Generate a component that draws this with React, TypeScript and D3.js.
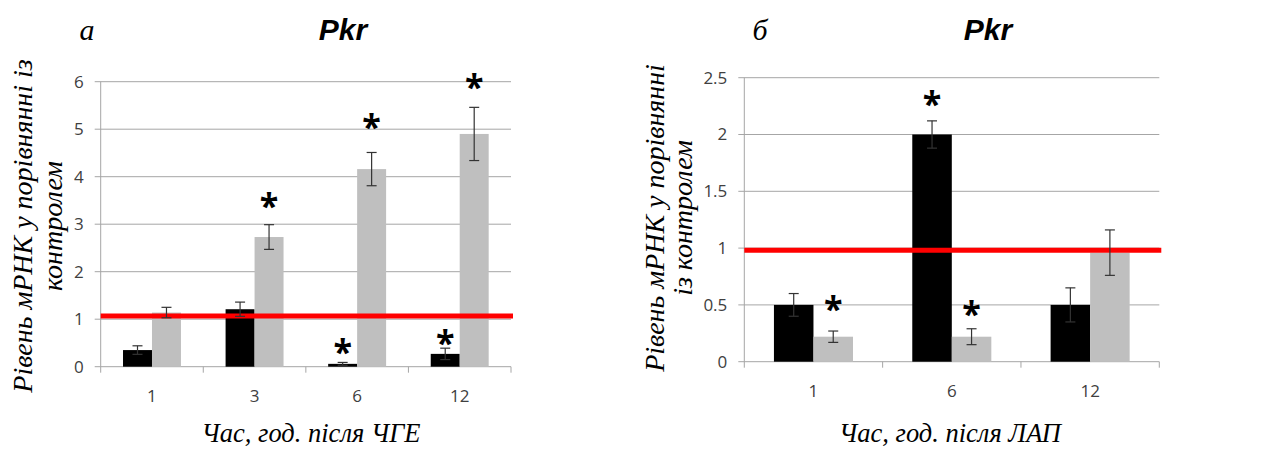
import React from "react";
import * as d3 from "d3";

// ---------- data: panel а (ЧГЕ) ----------
const catsA = ["1", "3", "6", "12"];
const blackA = [0.35, 1.21, 0.06, 0.27];
const blackErrA = [0.09, 0.15, 0.03, 0.12];
const grayA = [1.14, 2.73, 4.16, 4.9];
const grayErrA = [0.11, 0.26, 0.35, 0.56];
const starBlackA: (number | null)[] = [null, null, 0.39, 0.6];
const starGrayA: (number | null)[] = [null, 3.47, 5.14, 5.97];
const ticksA = [0, 1, 2, 3, 4, 5, 6];
const refA = 1.07;

// ---------- data: panel б (ЛАП) ----------
const catsB = ["1", "6", "12"];
const blackB = [0.5, 2.0, 0.5];
const blackErrB = [0.1, 0.12, 0.15];
const grayB = [0.22, 0.22, 0.96];
const grayErrB = [0.05, 0.07, 0.2];
const starBlackB: (number | null)[] = [null, 2.31, null];
const starGrayB: (number | null)[] = [0.5, 0.455, null];
const ticksB = [0, 0.5, 1, 1.5, 2, 2.5];
const refB = 0.98;

const SERIF = "'Liberation Serif', 'Times New Roman', serif";
const SANS = "'Open Sans', 'Liberation Sans', sans-serif";

type PanelProps = {
  cats: string[];
  black: number[];
  blackErr: number[];
  gray: number[];
  grayErr: number[];
  starBlack: (number | null)[];
  starGray: (number | null)[];
  ticks: number[];
  ref1: number;
  x0: number;
  x1: number;
  yTop: number;
  yBottom: number;
  innerPad: number;
  letter: string;
  letterX: number;
  titleX: number;
  xTitle: string;
  xTitleX: number;
  yLines: string[];
  yLineX: number[];
  yTitleY: number;
};

function Panel(p: PanelProps) {
  const y = d3.scaleLinear().domain([0, p.ticks[p.ticks.length - 1]]).range([p.yBottom, p.yTop]);
  const x = d3.scaleBand<string>().domain(p.cats).range([p.x0, p.x1]).padding(0);
  const sub = d3
    .scaleBand<string>()
    .domain(["black", "gray"])
    .range([0, x.bandwidth()])
    .paddingInner(0)
    .paddingOuter(p.innerPad);
  const bw = sub.bandwidth();
  const gridColor = "#a6a6a6";
  const errColor = "#333";
  const cap = 5;

  const bars: { key: string; cat: string; v: number; e: number; star: number | null; fill: string }[] = [];
  p.cats.forEach((c, i) => {
    bars.push({ key: "black", cat: c, v: p.black[i], e: p.blackErr[i], star: p.starBlack[i], fill: "#000" });
    bars.push({ key: "gray", cat: c, v: p.gray[i], e: p.grayErr[i], star: p.starGray[i], fill: "#bfbfbf" });
  });

  const bounds = [...p.cats.map((c) => x(c)!), p.x1];

  return (
    <g>
      {p.ticks.map((t) => (
        <line key={"g" + t} x1={p.x0 - 6} x2={p.x1} y1={y(t)} y2={y(t)} stroke={gridColor} strokeWidth={1} />
      ))}
      <line x1={p.x0} x2={p.x0} y1={p.yTop} y2={p.yBottom} stroke={gridColor} strokeWidth={1} />
      {bounds.map((b, i) => (
        <line key={"xt" + i} x1={b} x2={b} y1={p.yBottom} y2={p.yBottom + 6} stroke={gridColor} strokeWidth={1} />
      ))}
      {p.ticks.map((t) => (
        <text
          key={"yl" + t}
          x={p.x0 - 17}
          y={y(t)}
          dy="0.35em"
          textAnchor="end"
          fontFamily={SANS}
          fontSize={17}
          fill="#404040"
        >
          {t}
        </text>
      ))}
      {p.cats.map((c) => (
        <text
          key={"xl" + c}
          x={x(c)! + x.bandwidth() / 2}
          y={p.yBottom + 29}
          dy="0.35em"
          textAnchor="middle"
          fontFamily={SANS}
          fontSize={17}
          fill="#404040"
        >
          {c}
        </text>
      ))}
      {bars.map((b) => {
        const bx = x(b.cat)! + sub(b.key)!;
        return (
          <rect key={"r" + b.key + b.cat} x={bx} y={y(b.v)} width={bw} height={y(0) - y(b.v)} fill={b.fill} />
        );
      })}
      <line x1={p.x0} x2={p.x1 + 2} y1={y(p.ref1)} y2={y(p.ref1)} stroke="#ff0000" strokeWidth={5} />
      {bars.map((b) => {
        const cx = x(b.cat)! + sub(b.key)! + bw / 2;
        const top = y(b.v + b.e);
        const bot = y(Math.max(0, b.v - b.e));
        return (
          <g key={"e" + b.key + b.cat} stroke={errColor} strokeWidth={1.2}>
            <line x1={cx} x2={cx} y1={top} y2={bot} />
            <line x1={cx - cap} x2={cx + cap} y1={top} y2={top} />
            <line x1={cx - cap} x2={cx + cap} y1={bot} y2={bot} />
          </g>
        );
      })}
      {bars
        .filter((b) => b.star !== null)
        .map((b) => {
          const cx = x(b.cat)! + sub(b.key)! + bw / 2;
          return (
            <text
              key={"s" + b.key + b.cat}
              x={cx}
              y={y(b.star as number)}
              dy="0.48em"
              textAnchor="middle"
              fontFamily={SANS}
              fontWeight="bold"
              fontSize={34}
              fill="#000"
            >
              *
            </text>
          );
        })}
      <text x={p.letterX} y={40} textAnchor="middle" fontFamily={SERIF} fontStyle="italic" fontSize={30} fill="#000">
        {p.letter}
      </text>
      <text
        x={p.titleX}
        y={40}
        textAnchor="middle"
        fontFamily="'Liberation Sans', Arial, sans-serif"
        fontStyle="italic"
        fontWeight="bold"
        fontSize={30}
        fill="#000"
      >
        Pkr
      </text>
      <text
        x={p.xTitleX}
        y={433}
        dy="0.35em"
        textAnchor="middle"
        fontFamily={SERIF}
        fontStyle="italic"
        fontSize={26.5}
        fill="#000"
      >
        {p.xTitle}
      </text>
      {p.yLines.map((ln, i) => (
        <text
          key={"yt" + i}
          transform={`translate(${p.yLineX[i]},${p.yTitleY}) rotate(-90)`}
          dy="0.35em"
          textAnchor="middle"
          fontFamily={SERIF}
          fontStyle="italic"
          fontSize={28}
          fill="#000"
        >
          {ln}
        </text>
      ))}
    </g>
  );
}

export default function App() {
  return (
    <svg width={1271} height={452} style={{ position: "absolute", left: 0, top: 0, background: "#fff" }}>
      <rect width={1271} height={452} fill="#fff" />
      <Panel
        cats={catsA}
        black={blackA}
        blackErr={blackErrA}
        gray={grayA}
        grayErr={grayErrA}
        starBlack={starBlackA}
        starGray={starGrayA}
        ticks={ticksA}
        ref1={refA}
        x0={100.7}
        x1={511}
        yTop={81.7}
        yBottom={366.7}
        innerPad={0.77}
        letter="а"
        letterX={87}
        titleX={343}
        xTitle="Час, год. після ЧГЕ"
        xTitleX={311}
        yLines={["Рівень мРНК у порівнянні із", "контролем"]}
        yLineX={[22, 52]}
        yTitleY={226}
      />
      <Panel
        cats={catsB}
        black={blackB}
        blackErr={blackErrB}
        gray={grayB}
        grayErr={grayErrB}
        starBlack={starBlackB}
        starGray={starGrayB}
        ticks={ticksB}
        ref1={refB}
        x0={744.3}
        x1={1159.3}
        yTop={77.7}
        yBottom={361.7}
        innerPad={0.75}
        letter="б"
        letterX={760}
        titleX={988}
        xTitle="Час, год. після ЛАП"
        xTitleX={950}
        yLines={["Рівень мРНК у порівнянні", "із контролем"]}
        yLineX={[654, 682]}
        yTitleY={218}
      />
    </svg>
  );
}
